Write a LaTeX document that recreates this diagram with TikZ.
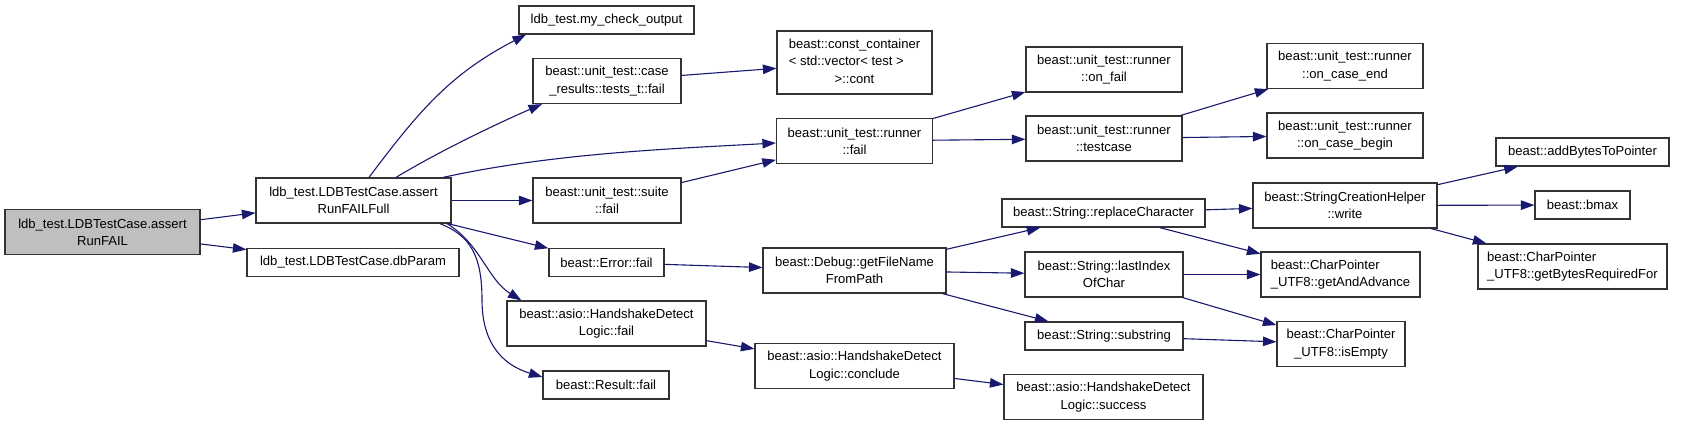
\documentclass[tikz,border=0pt]{standalone}
\usepackage{fontspec}
\setmainfont{Liberation Sans}
\usepackage{xcolor}
\definecolor{edgeblue}{RGB}{25,25,112}
\definecolor{rootgrey}{RGB}{191,191,191}
\usetikzlibrary{arrows.meta}

\begin{document}
\begin{tikzpicture}[x=1pt, y=-1pt,
  fn/.style={rectangle, draw=black!80, line width=1.2pt, fill=white,
             inner xsep=2pt, inner ysep=1pt, align=center,
             font=\fontsize{13.06}{17.3}\selectfont},
  caller/.style={fn, fill=rootgrey},
  h1/.style={minimum height=28pt},
  h2/.style={minimum height=45pt},
  h3/.style={minimum height=63pt},
  call/.style={draw=edgeblue, line width=1.1pt,
               -{Triangle[length=13.5pt,width=9.5pt]}}
]
\useasboundingbox (0,0) rectangle (1685,425);

% Column 0 / 1
\node[caller, h2, minimum width=195pt] (root)    at (102.5,232)  {ldb\_test.LDBTestCase.assert\\RunFAIL};
\node[fn, h2, minimum width=195pt]     (full)    at (353.5,200.5){ldb\_test.LDBTestCase.assert\\RunFAILFull};
\node[fn, h1, minimum width=212pt]     (dbparam) at (353,262.5)  {ldb\_test.LDBTestCase.dbParam};

% Column 2
\node[fn, h1, minimum width=175pt] (mycheck)   at (606.5,20)   {ldb\_test.my\_check\_output};
\node[fn, h2, minimum width=148pt] (casefail)  at (607,81)     {beast::unit\_test::case\\\_results::tests\_t::fail};
\node[fn, h2, minimum width=148pt] (suitefail) at (607,200.5)  {beast::unit\_test::suite\\::fail};
\node[fn, h1, minimum width=115pt] (errfail)   at (606.5,262.5){beast::Error::fail};
\node[fn, h2, minimum width=199pt] (hsfail)    at (606.5,323.5){beast::asio::HandshakeDetect\\Logic::fail};
\node[fn, h1, minimum width=126pt] (resfail)   at (606,385)    {beast::Result::fail};

% Column 3
\node[fn, h3, minimum width=155pt] (cont)     at (854.5,62.5)
  {\begin{tabular}{@{}l@{}}beast::const\_container\\< std::vector< test >\\\multicolumn{1}{@{}c@{}}{>::cont}\end{tabular}};
\node[fn, h2, minimum width=156pt] (runfail)  at (854.5,141)  {beast::unit\_test::runner\\::fail};
\node[fn, h2, minimum width=183pt] (getfile)  at (854.5,270.5){beast::Debug::getFileName\\FromPath};
\node[fn, h2, minimum width=199pt] (conclude) at (854.5,366)  {beast::asio::HandshakeDetect\\Logic::conclude};

% Column 4
\node[fn, h2, minimum width=156pt] (onfail)   at (1104,69.5)  {beast::unit\_test::runner\\::on\_fail};
\node[fn, h2, minimum width=156pt] (testcase) at (1104,138.5) {beast::unit\_test::runner\\::testcase};
\node[fn, h1, minimum width=203pt] (replace)  at (1103.5,213) {beast::String::replaceCharacter};
\node[fn, h2, minimum width=158pt] (lastidx)  at (1104,274.5) {beast::String::lastIndex\\OfChar};
\node[fn, h1, minimum width=158pt] (substr)   at (1104,336)   {beast::String::substring};
\node[fn, h2, minimum width=199pt] (success)  at (1103.5,397) {beast::asio::HandshakeDetect\\Logic::success};

% Column 5
\node[fn, h2, minimum width=156pt] (caseend)   at (1345,66)     {beast::unit\_test::runner\\::on\_case\_end};
\node[fn, h2, minimum width=156pt] (casebegin) at (1345,135.5)  {beast::unit\_test::runner\\::on\_case\_begin};
\node[fn, h2, minimum width=184pt] (write)     at (1345,205.5)  {beast::StringCreationHelper\\::write};
\node[fn, h2, minimum width=159pt, align=left] (getadv) at (1340.5,274.5) {beast::CharPointer\\\_UTF8::getAndAdvance};
\node[fn, h2, minimum width=128pt] (isempty)   at (1341,344)    {beast::CharPointer\\\_UTF8::isEmpty};

% Column 6
\node[fn, h1, minimum width=173pt] (addbytes) at (1582.5,152) {beast::addBytesToPointer};
\node[fn, h1, minimum width=95pt]  (bmax)     at (1582.5,205) {beast::bmax};
\node[fn, h2, minimum width=189pt, align=left] (getbytes) at (1572.5,266.5) {beast::CharPointer\\\_UTF8::getBytesRequiredFor};

% Calls
\draw[call] (root) -- (full);
\draw[call] (root) -- (dbparam);

\draw[call] ([xshift=15.5pt]full.north) .. controls +(51,-68) and +(-75,39) .. ([xshift=-80.5pt]mycheck.south);
\draw[call] ([xshift=42.5pt]full.north) .. controls +(43,-26) and +(-46,20) .. ([xshift=-65pt]casefail.south);
\draw[call] ([xshift=89.5pt]full.north) .. controls +(110,-24) and +(-110,6) .. ([yshift=-2pt]runfail.west);
\draw[call] (full) -- (suitefail);
\draw[call] (full) -- (errfail);
\draw[call] ([xshift=93.5pt]full.south) .. controls +(34,21) and +(-34,-21) .. ([xshift=15pt]hsfail.north west);
\draw[call] ([xshift=86.5pt]full.south) .. controls +(30,12) and +(0,-45) .. (482,300)
  .. controls +(0,50) and +(-33,-10) .. ([yshift=8pt]resfail.west);

\draw[call] (casefail) -- (cont);
\draw[call] (suitefail) -- (runfail);
\draw[call] (errfail) -- (getfile);
\draw[call] (hsfail) -- (conclude);

\draw[call] (runfail) -- (onfail);
\draw[call] (runfail) -- (testcase);
\draw[call] (getfile) -- (replace);
\draw[call] (getfile) -- (lastidx);
\draw[call] (getfile) -- (substr);
\draw[call] (conclude) -- (success);

\draw[call] (testcase) -- (caseend);
\draw[call] (testcase) -- (casebegin);
\draw[call] (replace) -- (write);
\draw[call] (replace) -- (getadv);
\draw[call] (lastidx) -- (getadv);
\draw[call] (lastidx) -- (isempty);
\draw[call] (substr) -- (isempty);

\draw[call] (write) -- (addbytes);
\draw[call] (write) -- (bmax);
\draw[call] (write) -- (getbytes);

\end{tikzpicture}
\end{document}
